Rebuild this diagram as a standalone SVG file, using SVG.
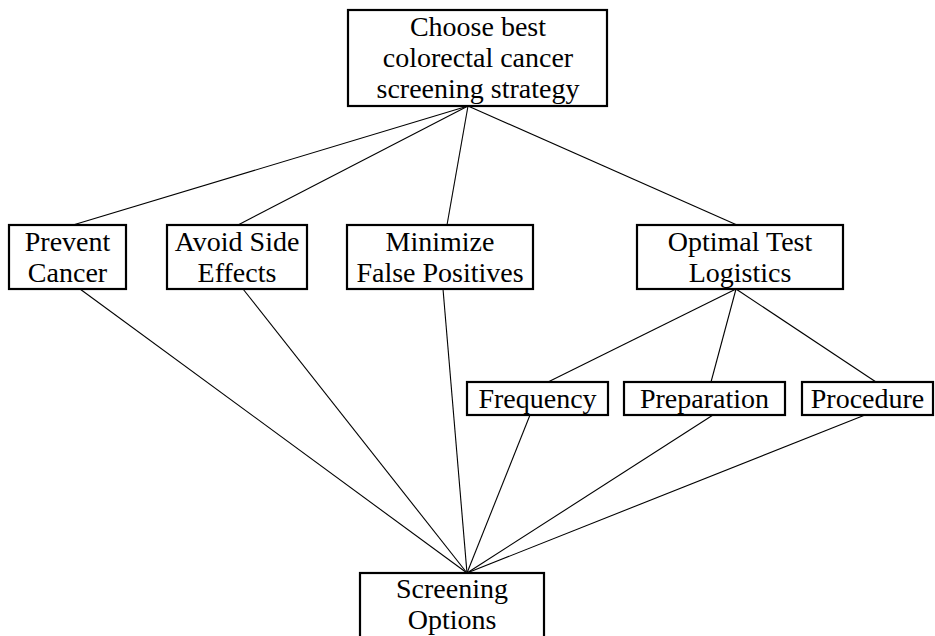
<svg xmlns="http://www.w3.org/2000/svg" width="935" height="636" viewBox="0 0 935 636">
<style>
rect{fill:#fff;stroke:#000;stroke-width:2.2}
text{font-family:"Liberation Serif","Times New Roman",serif;font-size:28px;fill:#000;text-anchor:middle}
#connectors line{stroke:#000;stroke-width:1.1}
</style>
<rect x="0" y="0" width="935" height="636" style="stroke:none"/>
<g id="connectors">
<line x1="468" y1="106" x2="73" y2="225"/>
<line x1="468" y1="106" x2="238" y2="225"/>
<line x1="468" y1="106" x2="447" y2="225"/>
<line x1="468" y1="106" x2="737" y2="225"/>
<line x1="736" y1="289" x2="548" y2="382"/>
<line x1="736" y1="289" x2="711" y2="382"/>
<line x1="736" y1="289" x2="876" y2="382"/>
<line x1="80" y1="289" x2="467" y2="573"/>
<line x1="243" y1="289" x2="467" y2="573"/>
<line x1="443" y1="289" x2="467" y2="573"/>
<line x1="530" y1="415" x2="467" y2="573"/>
<line x1="713" y1="415" x2="467" y2="573"/>
<line x1="865" y1="415" x2="467" y2="573"/>
</g>
<g id="goal">
<rect x="348" y="10" width="259" height="96"/>
<text x="478" y="36">Choose best</text>
<text x="478" y="67">colorectal cancer</text>
<text x="478" y="98">screening strategy</text>
</g>
<g id="prevent">
<rect x="9" y="225" width="117" height="64"/>
<text x="67.5" y="251">Prevent</text>
<text x="67.5" y="282">Cancer</text>
</g>
<g id="avoid">
<rect x="167" y="225" width="140" height="64"/>
<text x="237" y="251">Avoid Side</text>
<text x="237" y="282">Effects</text>
</g>
<g id="minimize">
<rect x="347" y="225" width="186" height="64"/>
<text x="440" y="251">Minimize</text>
<text x="440" y="282">False Positives</text>
</g>
<g id="optimal">
<rect x="637" y="225" width="206" height="64"/>
<text x="740" y="251">Optimal Test</text>
<text x="740" y="282">Logistics</text>
</g>
<g id="frequency">
<rect x="467" y="382" width="141" height="33"/>
<text x="537.5" y="408">Frequency</text>
</g>
<g id="preparation">
<rect x="624" y="382" width="161" height="33"/>
<text x="704.5" y="408">Preparation</text>
</g>
<g id="procedure">
<rect x="802" y="382" width="131" height="33"/>
<text x="867.5" y="408">Procedure</text>
</g>
<g id="options">
<rect x="360" y="573" width="184" height="70"/>
<text x="452" y="598">Screening</text>
<text x="452" y="629">Options</text>
</g>
</svg>
